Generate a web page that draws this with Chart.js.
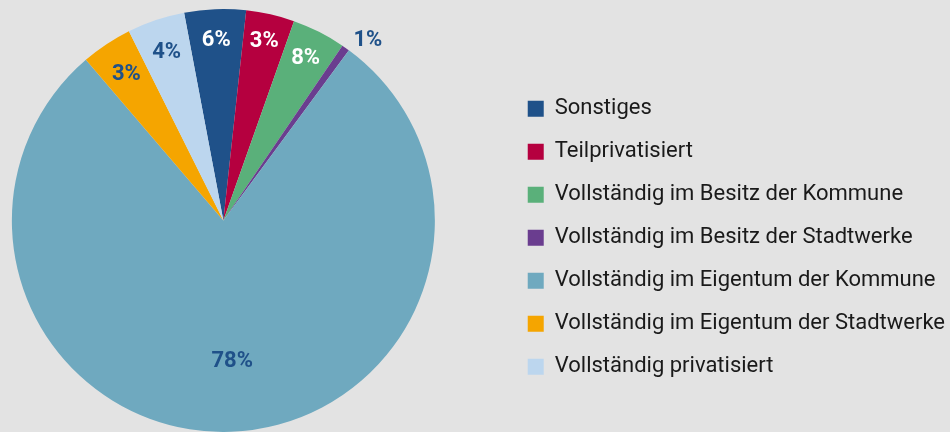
<!DOCTYPE html>
<html lang="de">
<head>
<meta charset="utf-8">
<title>Eigentumsverhältnisse</title>
<script src="https://cdn.jsdelivr.net/npm/chart.js@4/dist/chart.umd.min.js"></script>
<style>
    html, body { margin: 0; padding: 0; background: #e3e3e3; overflow: hidden; }
    /* canvas is a bit wider than the window and pulled left, so the pie sits
       further left while the legend keeps hugging the right edge */
    #wrap { position: relative; width: 1015px; height: 432px; margin-left: -60px; }
</style>
</head>
<body>
<div id="wrap"><canvas id="pieChart"></canvas></div>
<script>
// ------------------------------------------------------------------ data
const categories = [
    'Sonstiges',
    'Teilprivatisiert',
    'Vollständig im Besitz der Kommune',
    'Vollständig im Besitz der Stadtwerke',
    'Vollständig im Eigentum der Kommune',
    'Vollständig im Eigentum der Stadtwerke',
    'Vollständig privatisiert'
];
// slice sizes as drawn in the picture (percent of the circle)
const sliceValues = [4.7, 3.7, 4.1, 0.6, 78.7, 3.9, 4.4];
// the printed labels
const sliceLabels = ['6%', '3%', '8%', '1%', '78%', '3%', '4%'];

// ------------------------------------------------------------------ styles
const sliceColors = ['#1f5189', '#b5003f', '#5ab07a', '#6a3d8f', '#6fa9bf', '#f5a500', '#bcd6ee'];
const labelColors = ['#ffffff', '#ffffff', '#ffffff', '#1f5189', '#1f5189', '#1f5189', '#1f5189'];
const labelRadius = [0.85, 0.87, 0.86, 1.09, 0.67, 0.83, 0.84];   // fraction of outer radius
const labelAngleShift = [0, 0, 0, 3.5, -1.5, 0, 0];               // degrees

// --------------------------------------------------------- slice labels
const sliceLabelPlugin = {
    id: 'sliceLabels',
    afterDatasetsDraw(chart) {
        const ctx = chart.ctx;
        const arcs = chart.getDatasetMeta(0).data;
        ctx.save();
        ctx.font = 'bold 22px Roboto, "DejaVu Sans", sans-serif';
        ctx.textAlign = 'center';
        ctx.textBaseline = 'middle';
        arcs.forEach((arc, i) => {
            const p = arc.getProps(['x', 'y', 'startAngle', 'endAngle', 'outerRadius'], true);
            const a = (p.startAngle + p.endAngle) / 2 + labelAngleShift[i] * Math.PI / 180;
            const r = p.outerRadius * labelRadius[i];
            ctx.fillStyle = labelColors[i];
            ctx.fillText(sliceLabels[i], p.x + Math.cos(a) * r, p.y + Math.sin(a) * r);
        });
        ctx.restore();
    }
};

new Chart(document.getElementById('pieChart'), {
    type: 'pie',
    data: {
        labels: categories,
        datasets: [{
            data: sliceValues,
            backgroundColor: sliceColors,
            borderWidth: 0
        }]
    },
    options: {
        responsive: true,
        maintainAspectRatio: false,
        animation: false,
        rotation: -10.7,
        layout: { padding: { top: 9, bottom: 0, left: 0, right: 0 } },
        plugins: {
            tooltip: { enabled: false },
            legend: {
                position: 'right',
                align: 'center',
                title: { display: true, text: '', padding: { top: 0, bottom: 20 } },
                labels: {
                    boxWidth: 16,
                    boxHeight: 16,
                    padding: 21,
                    color: '#1a1a1a',
                    font: { family: 'Roboto, "DejaVu Sans", sans-serif', size: 22 }
                }
            }
        }
    },
    plugins: [sliceLabelPlugin]
});
</script>
</body>
</html>
